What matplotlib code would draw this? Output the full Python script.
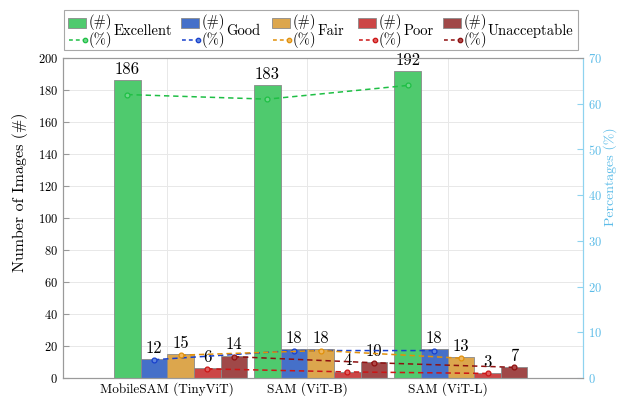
import numpy as np
import matplotlib.pyplot as plt
from matplotlib.patches import Rectangle
from matplotlib.lines import Line2D

plt.rcParams['font.family'] = ['cmr10', 'DejaVu Serif']
plt.rcParams['mathtext.fontset'] = 'cm'
plt.rcParams['axes.formatter.use_mathtext'] = True

models = ['MobileSAM (TinyViT)', 'SAM (ViT-B)', 'SAM (ViT-L)']
categories = ['Excellent', 'Good', 'Fair', 'Poor', 'Unacceptable']
excellent = [186, 183, 192]
good = [12, 18, 18]
fair = [15, 18, 13]
poor = [6, 4, 3]
unacceptable = [14, 10, 7]
total_images = 300

counts = [excellent, good, fair, poor, unacceptable]
bar_colors = ['#4fca6e', '#4570c9', '#dca64d', '#cc4646', '#a04848']
line_colors = ['#1fbf45', '#1840cc', '#e0900a', '#cc1515', '#8e1010']
marker_faces = ['#6fd88a', '#5f86e0', '#f0b860', '#e06060', '#b04a4a']

fig = plt.figure(figsize=(6.3, 3.97), dpi=100)
ax = fig.add_axes([63 / 630, 19 / 397, 520 / 630, 320 / 397])
ax2 = ax.twinx()

groups = np.arange(1, len(models) + 1)
w = 0.19

ax.set_axisbelow(True)
for i, (vals, bc) in enumerate(zip(counts, bar_colors)):
    xs = groups + (i - 2) * w
    ax.bar(xs, vals, width=w, color=bc, edgecolor='#8a8a8a', linewidth=0.6, zorder=2)
    for x, v in zip(xs, vals):
        ax.text(x, v + 2, str(v), ha='center', va='bottom', fontsize=12, zorder=6)
    pct = np.array(vals) / total_images * 100
    ax2.plot(xs, pct, linestyle=(0, (3.5, 2.5)), color=line_colors[i], lw=1.1,
             marker='o', ms=3.5, mfc=marker_faces[i], mec=line_colors[i], mew=0.9, zorder=5)

ax.set_xlim(0.161, 3.871)
ax.set_ylim(0, 200)
ax.set_yticks(np.arange(0, 201, 20))
ax.set_xticks(groups - w / 2)
ax.set_xticklabels(models, fontsize=9.5)
ax.tick_params(axis='y', labelsize=9, direction='in', length=4, color='#999999')
ax.tick_params(axis='x', length=0, pad=3)
ax.set_ylabel('Number of Images (#)', fontsize=11.5)
ax.yaxis.set_label_coords(-0.068, 0.58)
ax.grid(True, color='#e8e8e8', lw=0.7)

ax2.set_ylim(0, 70)
ax2.set_yticks(np.arange(0, 71, 10))
ax2.tick_params(axis='y', labelsize=9, direction='in', length=4,
                color='#8ed3ef', labelcolor='#5cbce8')
ax2.set_ylabel('Percentages (%)', fontsize=10, color='#5cbce8')
ax2.yaxis.set_label_coords(1.038, 0.63)
ax2.set_zorder(ax.get_zorder() + 1)
ax2.patch.set_visible(False)

for a in (ax, ax2):
    for s in ('left', 'bottom', 'top'):
        a.spines[s].set_color('#9a9a9a')
        a.spines[s].set_linewidth(0.8)
    a.spines['right'].set_color('#8ed3ef')
    a.spines['right'].set_linewidth(0.8)

# legend drawn in pixel coordinates of the figure
lax = fig.add_axes([0, 0, 1, 1], zorder=10)
lax.set_xlim(0, 630)
lax.set_ylim(397, 0)
lax.axis('off')
lax.add_patch(Rectangle((64, 10), 514, 40, fill=True, facecolor='white',
                        edgecolor='#a8a8a8', lw=0.8))
entry_x = [68, 181, 272, 358, 443]
for i, name in enumerate(categories):
    x0 = entry_x[i]
    lax.add_patch(Rectangle((x0, 17.5), 18, 10, facecolor=bar_colors[i],
                            edgecolor='#8a8a8a', lw=0.6))
    lax.add_line(Line2D([x0 + 1, x0 + 17], [39.5, 39.5], linestyle=(0, (2.5, 2)),
                        color=line_colors[i], lw=1.1, marker='o', ms=3.2,
                        markevery=[1], mfc=marker_faces[i], mec=line_colors[i], mew=0.9))
    lax.text(x0 + 21, 22, '(#)', fontsize=10.5, va='center', ha='left')
    lax.text(x0 + 21, 40, '(%)', fontsize=10.5, va='center', ha='left')
    lax.text(x0 + 45, 31, name, fontsize=10.5, va='center', ha='left')

fig.savefig('out.png', dpi=100)
